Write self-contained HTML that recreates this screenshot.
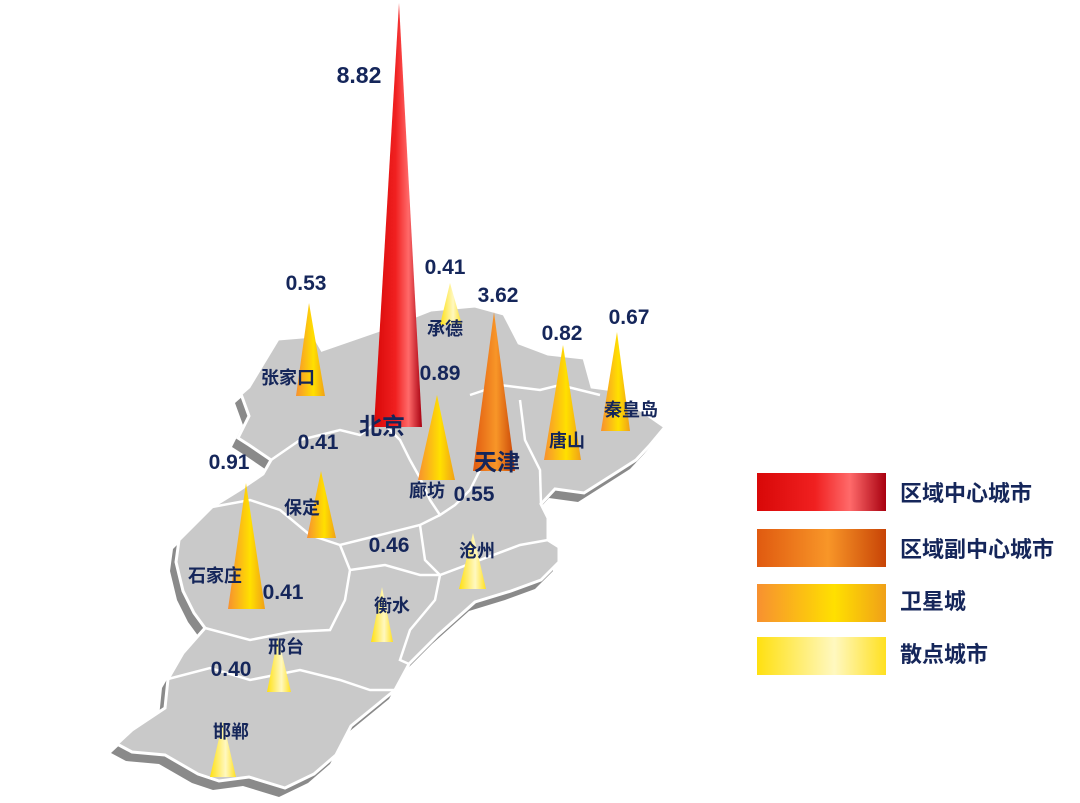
<!DOCTYPE html>
<html><head><meta charset="utf-8"><style>
html,body{margin:0;padding:0;background:#fff;}
svg{display:block;}
text{font-family:"Liberation Sans","Noto Sans CJK SC",sans-serif;font-weight:bold;fill:#15265a;}
</style></head><body>
<svg width="1080" height="803" viewBox="0 0 1080 803" xmlns="http://www.w3.org/2000/svg">
<defs>
<linearGradient id="gR" x1="0" x2="1" y1="0" y2="0"><stop offset="0" stop-color="#d80808"/><stop offset="0.45" stop-color="#f02020"/><stop offset="0.72" stop-color="#ff6a6a"/><stop offset="1" stop-color="#a80010"/></linearGradient>
<linearGradient id="gO" x1="0" x2="1" y1="0" y2="0"><stop offset="0" stop-color="#e05a10"/><stop offset="0.55" stop-color="#f89628"/><stop offset="1" stop-color="#c84406"/></linearGradient>
<linearGradient id="gS" x1="0" x2="1" y1="0" y2="0"><stop offset="0" stop-color="#f79030"/><stop offset="0.6" stop-color="#ffe000"/><stop offset="1" stop-color="#f0a018"/></linearGradient>
<linearGradient id="gP" x1="0" x2="1" y1="0" y2="0"><stop offset="0" stop-color="#ffe010"/><stop offset="0.6" stop-color="#fff8c0"/><stop offset="1" stop-color="#ffe020"/></linearGradient>
</defs>
<g id="map">
<path transform="translate(-6,9)" fill="#8a8a8a" d="M241,394 L249,387 L278,339 L314,336 L322,350 L380,330 L431,310 L475,306 L504,314 L519,343 L548,354 L584,358 L592,387 L614,390 L639,409 L665,427 L650,445 L636,460 L614,474 L584,493 L555,489 L541,504 L548,518 L548,540 L559,547 L559,562 L541,580 L511,591 L475,602 L438,635 L409,664 L395,690 L373,708 L351,726 L336,755 L314,774 L285,788 L249,777 L219,781 L198,774 L165,755 L132,752 L117,744 L132,730 L165,708 L168,679 L183,653 L205,628 L194,613 L183,591 L176,562 L179,540 L194,525 L212,507 L241,489 L263,474 L271,460 L249,445 L238,438 L249,416 Z"/>
<path fill="#c9c9c9" stroke="#fff" stroke-width="3" d="M241,394 L249,387 L278,339 L314,336 L322,350 L380,330 L431,310 L475,306 L504,314 L519,343 L548,354 L584,358 L592,387 L614,390 L639,409 L665,427 L650,445 L636,460 L614,474 L584,493 L555,489 L541,504 L548,518 L548,540 L559,547 L559,562 L541,580 L511,591 L475,602 L438,635 L409,664 L395,690 L373,708 L351,726 L336,755 L314,774 L285,788 L249,777 L219,781 L198,774 L165,755 L132,752 L117,744 L132,730 L165,708 L168,679 L183,653 L205,628 L194,613 L183,591 L176,562 L179,540 L194,525 L212,507 L241,489 L263,474 L271,460 L249,445 L238,438 L249,416 Z"/>
<g fill="none" stroke="#fff" stroke-width="2.5">
<path d="M271,460 L300,440 L340,430 L360,435 L380,420"/>
<path d="M380,420 L400,440 L410,460 L420,478 L430,500 L440,515 L455,505 L470,490 L480,470"/>
<path d="M470,395 L500,385 L540,390 L560,385 L600,395"/>
<path d="M520,400 L525,440 L540,470 L541,504"/>
<path d="M212,507 L250,500 L280,510 L310,535 L340,545 L380,535 L420,525 L440,515"/>
<path d="M340,545 L350,570 L345,600 L330,630 L290,632 L250,640 L205,628"/>
<path d="M420,525 L425,560 L440,575 L480,560 L520,545 L548,540"/>
<path d="M350,570 L385,565 L420,575 L440,575 L435,600 L410,630 L400,660 L409,664"/>
<path d="M168,679 L210,668 L250,680 L300,670 L340,680 L370,690 L395,690"/>
</g>
</g>
<!-- cones -->
<polygon points="399,3 374,427 422,427" fill="url(#gR)"/>
<polygon points="309,303 296,396 325,396" fill="url(#gS)"/>
<polygon points="450,283 440,325 462,325" fill="url(#gP)"/>
<polygon points="494,312 473,471 515,471" fill="url(#gO)"/>
<polygon points="437,395 418,480 455,480" fill="url(#gS)"/>
<polygon points="563,345 544,460 581,460" fill="url(#gS)"/>
<polygon points="617,332 601,431 630,431" fill="url(#gS)"/>
<polygon points="321,471 307,538 336,538" fill="url(#gS)"/>
<polygon points="246,483 228,609 265,609" fill="url(#gS)"/>
<polygon points="473,533 459,589 486,589" fill="url(#gP)"/>
<polygon points="382,587 371,642 393,642" fill="url(#gP)"/>
<polygon points="278,637 267,692 291,692" fill="url(#gP)"/>
<polygon points="223,721 210,777 236,777" fill="url(#gP)"/>
<!-- values -->
<g font-size="21" text-anchor="middle">
<text x="359" y="83" font-size="23">8.82</text>
<text x="306" y="290">0.53</text>
<text x="445" y="274">0.41</text>
<text x="498" y="302">3.62</text>
<text x="562" y="340">0.82</text>
<text x="629" y="324">0.67</text>
<text x="440" y="380">0.89</text>
<text x="318" y="449">0.41</text>
<text x="229" y="469">0.91</text>
<text x="474" y="501">0.55</text>
<text x="389" y="552">0.46</text>
<text x="283" y="599">0.41</text>
<text x="231" y="676">0.40</text>
</g>
<g font-size="18" text-anchor="middle">
<text x="288" y="384">张家口</text>
<text x="445" y="335">承德</text>
<text x="382" y="434" font-size="23">北京</text>
<text x="497" y="470" font-size="23">天津</text>
<text x="567" y="447">唐山</text>
<text x="631" y="416">秦皇岛</text>
<text x="427" y="497">廊坊</text>
<text x="302" y="514">保定</text>
<text x="215" y="582">石家庄</text>
<text x="477" y="557">沧州</text>
<text x="392" y="612">衡水</text>
<text x="286" y="653">邢台</text>
<text x="231" y="738">邯郸</text>
</g>
<!-- legend -->
<rect x="757" y="473" width="129" height="38" fill="url(#gR)"/>
<rect x="757" y="529" width="129" height="38" fill="url(#gO)"/>
<rect x="757" y="584" width="129" height="38" fill="url(#gS)"/>
<rect x="757" y="637" width="129" height="38" fill="url(#gP)"/>
<g font-size="22">
<text x="900" y="501">区域中心城市</text>
<text x="900" y="557">区域副中心城市</text>
<text x="900" y="609">卫星城</text>
<text x="900" y="662">散点城市</text>
</g>
</svg>
</body></html>
